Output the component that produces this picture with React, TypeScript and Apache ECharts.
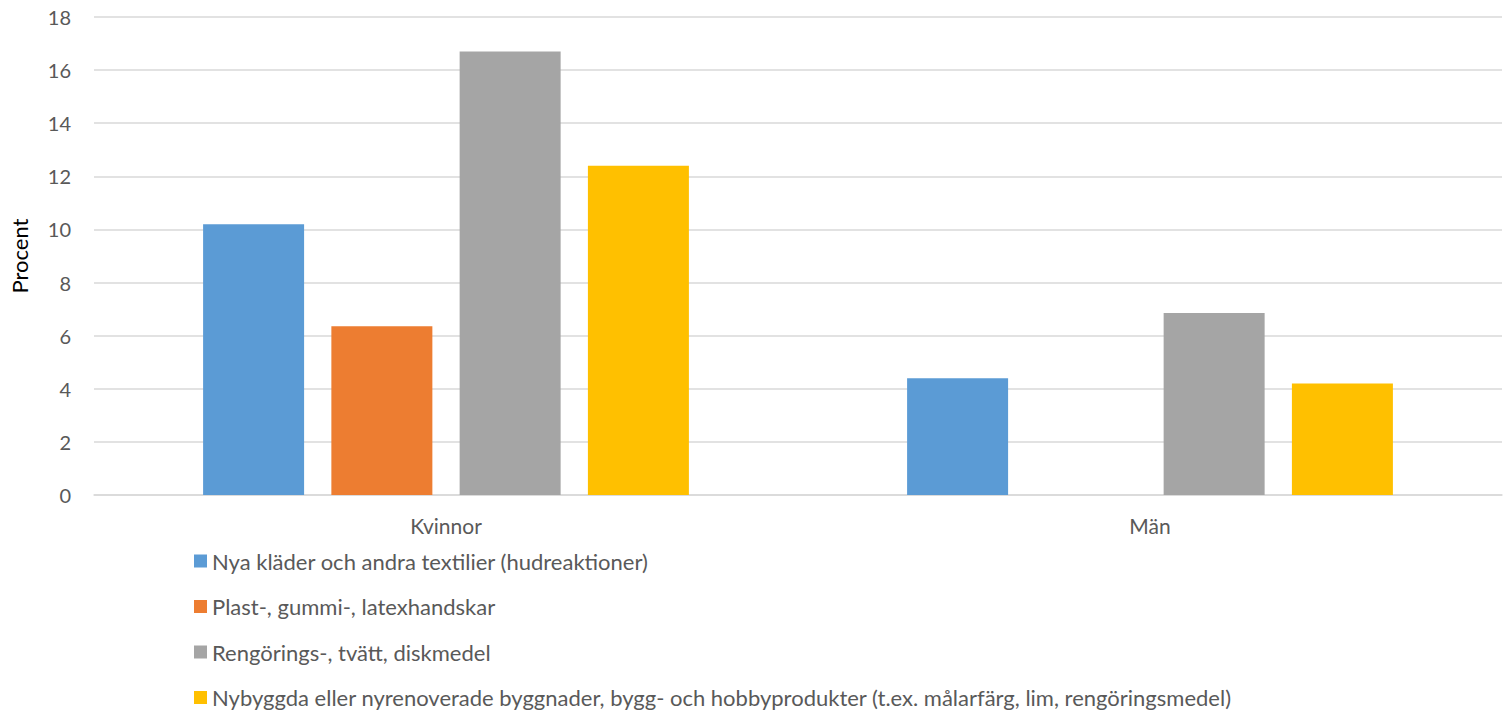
import React, { useEffect, useRef } from "react";
import * as echarts from "echarts";

const categories = ["Kvinnor", "Män"];
const seriesNames = [
  "Nya kläder och andra textilier (hudreaktioner)",
  "Plast-, gummi-, latexhandskar",
  "Rengörings-, tvätt, diskmedel",
  "Nybyggda eller nyrenoverade byggnader, bygg- och hobbyprodukter (t.ex. målarfärg, lim, rengöringsmedel)",
];
const textiles = [10.2, 4.4];
const gloves = [6.35, null];
const detergents = [16.7, 6.85];
const buildings = [12.4, 4.2];
const colors = ["#5B9BD5", "#ED7D31", "#A5A5A5", "#FFC000"];
const yTicks = { min: 0, max: 18, interval: 2 };

export default function App() {
  const ref = useRef<HTMLDivElement>(null);
  useEffect(() => {
    document.body.style.margin = "0";
    const chart = echarts.init(ref.current!, undefined, { renderer: "svg" });
    const values = [textiles, gloves, detergents, buildings];
    chart.setOption({
      animation: false,
      textStyle: { fontFamily: "Lato" },
      grid: { left: 91, right: 2, top: 17, bottom: 216 },
      legend: {
        orient: "vertical",
        left: 189,
        top: 545,
        height: 200,
        itemWidth: 13,
        itemHeight: 13,
        itemGap: 23.5,
        icon: "rect",
        data: seriesNames,
        textStyle: { fontSize: 22, color: "#595959", lineHeight: 22, fontFamily: "Lato" },
      },
      xAxis: {
        type: "category",
        data: categories,
        axisLine: { lineStyle: { color: "#d9d9d9", width: 1.5 } },
        axisTick: { show: false },
        axisLabel: { color: "#595959", fontSize: 21, margin: 20, fontFamily: "Lato" },
      },
      yAxis: {
        type: "value",
        min: yTicks.min,
        max: yTicks.max,
        interval: yTicks.interval,
        name: "Procent",
        nameLocation: "middle",
        nameGap: 64,
        nameTextStyle: { color: "#000", fontSize: 22, fontFamily: "Lato" },
        axisLine: { show: false },
        axisTick: { show: false },
        axisLabel: { color: "#595959", fontSize: 20, margin: 23, fontFamily: "Lato" },
        splitLine: { lineStyle: { color: "#d9d9d9", width: 1.5 } },
      },
      series: seriesNames.map((name, i) => ({
        name,
        type: "bar",
        data: values[i],
        barWidth: 101,
        barGap: "27%",
        itemStyle: { color: colors[i] },
      })),
    });
    return () => chart.dispose();
  }, []);
  return <div ref={ref} style={{ width: 1504, height: 711 }} />;
}
